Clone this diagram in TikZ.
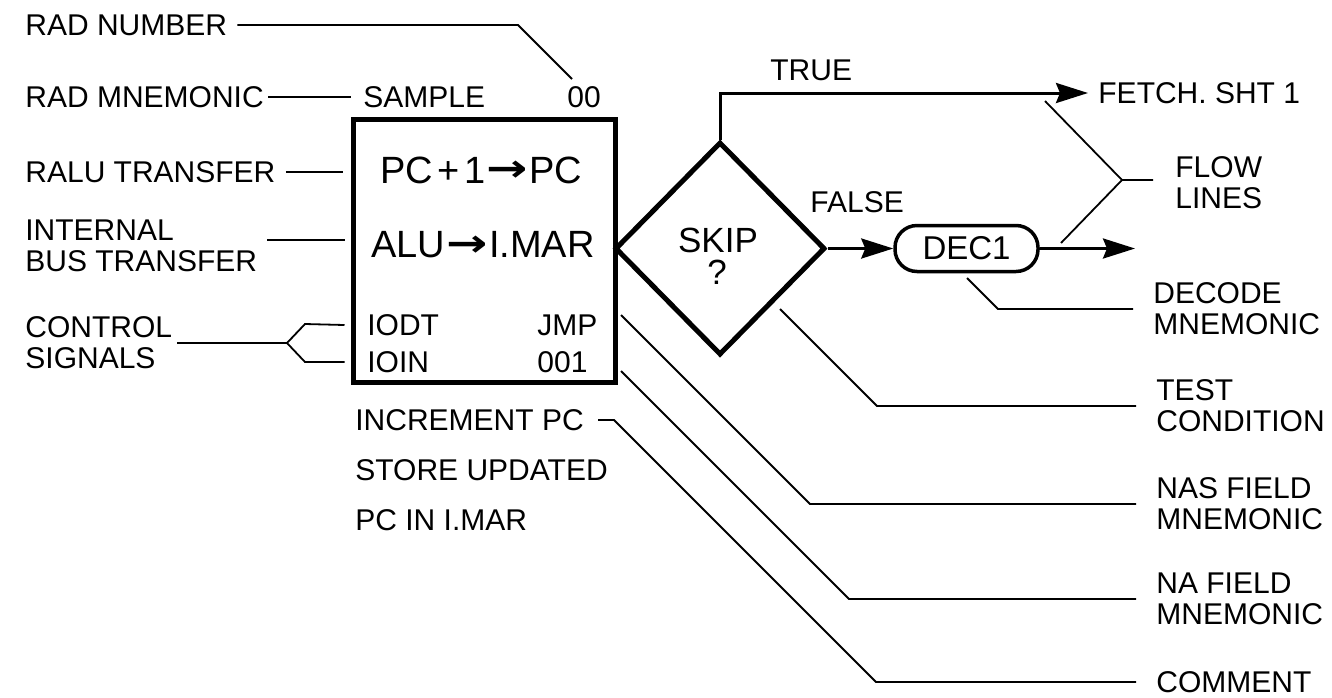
\documentclass[tikz,border=0pt]{standalone}
\usepackage{fontspec}
\setmainfont{Liberation Sans}
\newfontfamily\arrfont{DejaVu Sans}
\usetikzlibrary{arrows.meta,shapes.geometric,calc}
\newcommand\myarr{\kern0.03em\raisebox{0.04em}{\scalebox{1.3}[1]{\arrfont\bfseries →}}\kern0.03em}
\begin{document}
\begin{tikzpicture}[x=0.5pt,y=-0.5pt,
  lbl/.style={font=\fontsize{15}{15.5}\selectfont, inner sep=0pt, anchor=west, align=left},
  big/.style={font=\fontsize{19}{19}\selectfont, inner sep=0pt},
  skipfont/.style={font=\fontsize{17.5}{17.5}\selectfont, inner sep=0pt},
  lead/.style={line width=0.9pt},
  flow/.style={line width=1.5pt, -{Stealth[length=16pt,width=10pt,inset=2pt]}},
  mainbox/.style={draw, line width=2.5pt, inner sep=0pt}
]
\useasboundingbox (0,0) rectangle (1332,697);

% left labels
\node[lbl] (radnum) at (25,25) {RAD NUMBER};
\node[lbl] (radmn) at (25,97) {RAD MNEMONIC};
\node[lbl] (ralu) at (25,172) {RALU TRANSFER};
\node[lbl] (ibus) at (25,246) {INTERNAL\\BUS TRANSFER};
\node[lbl] (ctrl) at (25,343) {CONTROL\\SIGNALS};

% box
\node[lbl] (sample) at (363,97) {SAMPLE};
\node[lbl] (radno) at (567,97) {00};
\node[mainbox, minimum width=131pt, minimum height=131.5pt] (box) at (484,250.5) {};
\node[big] (pc) at (481,170) {PC\kern0.12em+\kern0.12em1\myarr PC};
\node[big] (alu) at (483,245) {ALU\myarr I.MAR};
\node[lbl] (iodt) at (367,325) {IODT};
\node[lbl] (ioin) at (367,362) {IOIN};
\node[lbl] (jmp) at (537,325) {JMP};
\node[lbl] (nanum) at (537,362) {001};
\node[lbl] (inc) at (355,420) {INCREMENT PC};
\node[lbl] (store) at (355,470) {STORE UPDATED};
\node[lbl] (pcin) at (355,520) {PC IN I.MAR};

% decision
\node[mainbox, diamond, minimum width=105pt, minimum height=106.5pt] (skip) at (720,248.5) {};
\node[skipfont] (skiptxt) at (718,240) {SKIP};
\node[skipfont] (skipq) at (717,272) {?};
\node[lbl] (true) at (770,70) {TRUE};
\node[lbl] (false) at (810,202) {FALSE};
\node[draw, line width=1.75pt, rounded corners=11pt, minimum width=71.5pt, minimum height=23pt,
      inner sep=0pt, font=\fontsize{16.5}{16.5}\selectfont] (dec) at (966.5,248.5) {DEC1};

% right labels
\node[lbl] (fetch) at (1098,93) {FETCH. SHT 1};
\node[lbl] (flowl) at (1175,183) {FLOW\\LINES};
\node[lbl] (decode) at (1153,309) {DECODE\\MNEMONIC};
\node[lbl] (test) at (1156,406) {TEST\\CONDITION};
\node[lbl] (nas) at (1156,504) {NAS FIELD\\MNEMONIC};
\node[lbl] (nafld) at (1156,599) {NA FIELD\\MNEMONIC};
\node[lbl] (comment) at (1156,682) {COMMENT};

% flow lines
\draw[flow] (skip.north) |- ([xshift=-5pt]fetch.west);
\draw[flow] (skip.east) -- (dec.west);
\coordinate (outend) at (1135,248.5);
\draw[flow] (dec.east) -- (outend);

% leader lines
\coordinate (rnA) at (518,25);
\coordinate (rnB) at (572,79);
\draw[lead] ([xshift=5pt]radnum.east) -- (rnA) -- (rnB);
\draw[lead] ([xshift=2pt]radmn.east) -- ([xshift=-6pt]sample.west);
\draw[lead] ([xshift=5pt]ralu.east) -- ($(box.west |- ralu.east)+(-4pt,0)$);
\draw[lead] ($(ibus.east)+(5pt,3pt)$) -- ($(box.west |- ibus.east)+(-3pt,3pt)$);
\coordinate (cfork) at (287,343);
\coordinate (cup) at (305,324);
\coordinate (cdn) at (305,362);
\draw[lead] ([xshift=2.5pt]ctrl.east) -- (cfork);
\draw[lead] (cfork) -- (cup) -- ($(box.west |- iodt.west)+(-3pt,0)$);
\draw[lead] (cfork) -- (cdn) -- ($(box.west |- ioin.west)+(-3pt,0)$);

\coordinate (incA) at (614,420);
\coordinate (incB) at (876,682);
\draw[lead] ([xshift=7pt]inc.east) -- (incA) -- (incB) -- ([xshift=-10pt]comment.west);
\coordinate (naA) at (621,371);
\coordinate (naB) at (849,599);
\draw[lead] (naA) -- (naB) -- ([xshift=-10pt]nafld.west);
\coordinate (nasA) at (621,315);
\coordinate (nasB) at (810,504);
\draw[lead] (nasA) -- (nasB) -- ([xshift=-10pt]nas.west);
\coordinate (tcA) at (780,309);
\coordinate (tcB) at (877,406);
\draw[lead] (tcA) -- (tcB) -- ([xshift=-10pt]test.west);
\coordinate (dcA) at (967,278);
\coordinate (dcB) at (998,309);
\draw[lead] (dcA) -- (dcB) -- ([xshift=-10pt]decode.west);
\coordinate (flA) at (1045,101);
\coordinate (flB) at (1061,243);
\coordinate (flF) at (1122,180);
\coordinate (flE) at (1153,180);
\draw[lead] (flA) -- (flF) -- (flE);
\draw[lead] (flB) -- (flF);
\end{tikzpicture}
\end{document}
